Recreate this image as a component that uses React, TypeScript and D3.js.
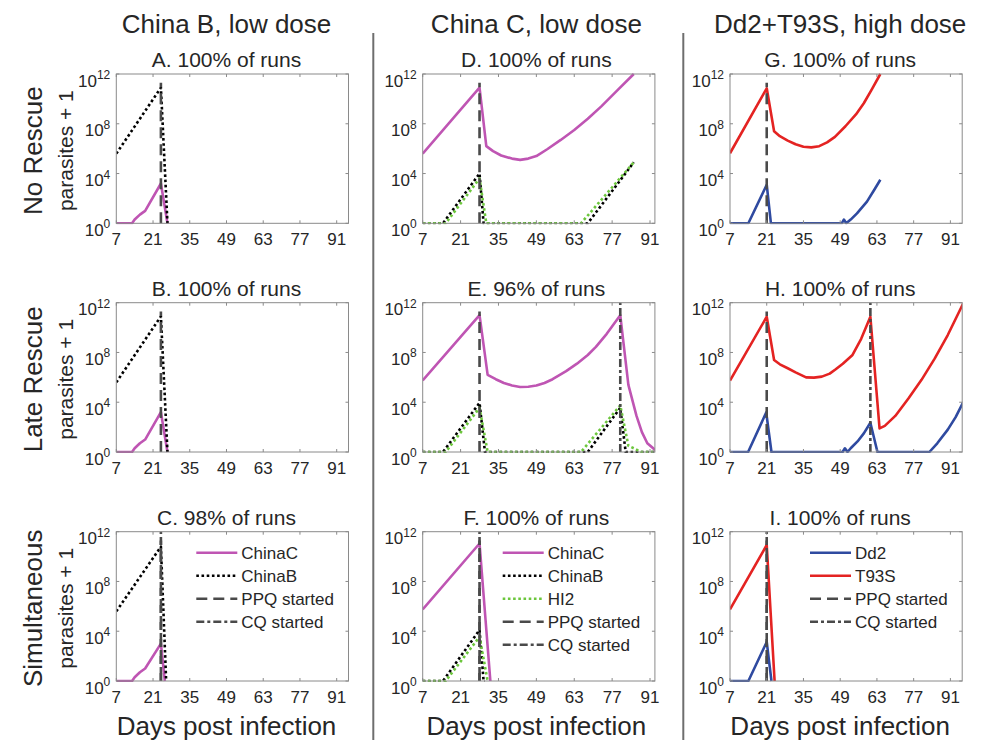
import React from 'react';
import * as d3 from 'd3';

// each point is [day post infection, log10(parasites + 1)]
type Pt = [number, number];

// --- China B, low dose ---
const aChinaC: Pt[] = [[7, 0], [13, 0], [14, 0.3], [16, 0.7], [18, 1.0], [24, 3.2], [26.5, 0]];
const aChinaB: Pt[] = [[7, 5.6], [24, 10.9], [26.5, 0]];
const cChinaC: Pt[] = [[7, 0], [13, 0], [14, 0.3], [16, 0.7], [18, 1.0], [24, 3.0], [25.5, 0]];
const cChinaB: Pt[] = [[7, 5.6], [24, 10.8], [26, 0]];

// --- China C, low dose ---
const dChinaC: Pt[] = [
  [7, 5.6], [28, 10.9], [30.5, 6.2], [33, 5.8], [36, 5.45], [40, 5.2], [43, 5.1], [46, 5.2],
  [49, 5.4], [53, 5.95], [58, 6.7], [63, 7.5], [68, 8.4], [73, 9.4], [79, 10.7], [85, 12],
];
const dChinaB: Pt[] = [[7, 0], [14.5, 0], [28, 4.0], [29.5, 0], [68, 0], [85, 4.9]];
const dHI2: Pt[] = [[7, 0], [15.5, 0], [28, 3.6], [30.5, 0], [65.5, 0], [85, 4.9]];

const eChinaC: Pt[] = [
  [7, 5.75], [28, 11.0], [31, 6.2], [34, 5.85], [37, 5.55], [40, 5.35], [43, 5.23], [46, 5.25],
  [49, 5.34], [52, 5.55], [55, 5.85], [60, 6.5], [64, 7.1], [68, 7.8], [71, 8.45], [75, 9.5],
  [80, 11.0], [83, 5.4], [86, 2.9], [88, 1.6], [90, 0.7], [93, 0.15],
];
const eChinaB: Pt[] = [[7, 0], [14.5, 0], [28, 3.95], [30, 0], [68, 0], [80, 3.55], [82, 0], [93, 0]];
const eHI2: Pt[] = [[7, 0], [15.5, 0], [28, 3.55], [31, 0], [65.5, 0], [80, 3.75], [83, 0.5], [85, 0.3], [87.5, 0], [93, 0]];

const fChinaC: Pt[] = [[7, 5.75], [28, 11.05], [32, 0]];
const fChinaB: Pt[] = [[7, 0], [14.5, 0], [28, 4.1], [29.5, 0], [30, 0]];
const fHI2: Pt[] = [[7, 0], [15.5, 0], [28, 3.55], [31, 0]];

// --- Dd2+T93S, high dose ---
const gT93S: Pt[] = [
  [7, 5.63], [21, 10.85], [23.8, 7.4], [26, 7.0], [29, 6.65], [32, 6.35], [35, 6.15], [38, 6.1],
  [41, 6.2], [44, 6.5], [47, 6.95], [51, 7.8], [55, 8.75], [58, 9.65], [61, 10.75], [64.3, 12],
];
const gDd2: Pt[] = [
  [7, 0], [14, 0], [21, 3.1], [22.6, 0], [49.6, 0], [50.4, 0.3], [51.3, 0], [53, 0.3],
  [55.4, 0.8], [59.2, 1.74], [62, 2.7], [64.3, 3.5],
];

const hT93S: Pt[] = [
  [7, 5.74], [21, 10.87], [23.8, 7.4], [26, 7.05], [29, 6.73], [32, 6.4], [36, 6.0], [39, 5.98],
  [42, 6.06], [45, 6.3], [47.3, 6.65], [50, 7.1], [53.7, 7.8], [57, 9.1], [60.5, 10.87],
  [64, 1.9], [66, 2.1], [70, 2.9], [75, 4.3], [80, 5.8], [85, 7.5], [90, 9.4], [96, 12],
];
const hDd2: Pt[] = [
  [7, 0], [13.9, 0], [20.8, 3.18], [22.8, 0], [49.9, 0], [50.8, 0.3], [51.8, 0], [53, 0.3],
  [55.6, 0.85], [58, 1.5], [60.5, 2.35], [63.2, 0], [83, 0], [86, 0.7], [90, 1.8], [93, 2.8], [96, 4.05],
];

const iT93S: Pt[] = [[7, 5.75], [21, 10.93], [24, 0]];
const iDd2: Pt[] = [[7, 0], [14, 0], [21, 3.14], [22.8, 0]];

const xTicks = [7, 21, 35, 49, 63, 77, 91];
const yTickExps = [0, 4, 8, 12];
const columnTitles = ['China B, low dose', 'China C, low dose', 'Dd2+T93S, high dose'];
const rowTitles = ['No Rescue', 'Late Rescue', 'Simultaneous'];
const xMaxByCol = [95.5, 92.8, 95.5];

const legendC = ['ChinaC', 'ChinaB', 'PPQ started', 'CQ started'];
const legendF = ['ChinaC', 'ChinaB', 'HI2', 'PPQ started', 'CQ started'];
const legendI = ['Dd2', 'T93S', 'PPQ started', 'CQ started'];

type Panel = {
  row: number;
  col: number;
  title: string;
  series: [string, Pt[]][];
  ppq: number;
  cq: number | null;
  legend?: string[];
};

const panels: Panel[] = [
  { row: 0, col: 0, title: 'A. 100% of runs', series: [['ChinaC', aChinaC], ['ChinaB', aChinaB]], ppq: 24, cq: null },
  { row: 1, col: 0, title: 'B. 100% of runs', series: [['ChinaC', aChinaC], ['ChinaB', aChinaB]], ppq: 24, cq: null },
  { row: 2, col: 0, title: 'C. 98% of runs', series: [['ChinaC', cChinaC], ['ChinaB', cChinaB]], ppq: 24, cq: 24, legend: legendC },
  { row: 0, col: 1, title: 'D. 100% of runs', series: [['ChinaC', dChinaC], ['ChinaB', dChinaB], ['HI2', dHI2]], ppq: 28, cq: null },
  { row: 1, col: 1, title: 'E. 96% of runs', series: [['ChinaC', eChinaC], ['ChinaB', eChinaB], ['HI2', eHI2]], ppq: 28, cq: 80 },
  { row: 2, col: 1, title: 'F. 100% of runs', series: [['ChinaC', fChinaC], ['ChinaB', fChinaB], ['HI2', fHI2]], ppq: 28, cq: 28, legend: legendF },
  { row: 0, col: 2, title: 'G. 100% of runs', series: [['Dd2', gDd2], ['T93S', gT93S]], ppq: 21, cq: null },
  { row: 1, col: 2, title: 'H. 100% of runs', series: [['Dd2', hDd2], ['T93S', hT93S]], ppq: 21, cq: 60.5 },
  { row: 2, col: 2, title: 'I. 100% of runs', series: [['Dd2', iDd2], ['T93S', iT93S]], ppq: 21, cq: 21, legend: legendI },
];

const STYLE: Record<string, { color: string; width: number; dash?: string }> = {
  ChinaC: { color: '#bf55b3', width: 2.6 },
  ChinaB: { color: '#000000', width: 2.6, dash: '2.6 2.6' },
  HI2: { color: '#6cc63c', width: 2.6, dash: '2.6 2.6' },
  Dd2: { color: '#2f4aa0', width: 2.6 },
  T93S: { color: '#e42322', width: 2.6 },
  'PPQ started': { color: '#4a4a4a', width: 2.6, dash: '11 6' },
  'CQ started': { color: '#4a4a4a', width: 2.6, dash: '8 3 3 3' },
};

const W = 984;
const H = 740;
const colLeft = [116.3, 422.7, 730];
const rowTop = [74, 302.7, 531.7];
const PW = 232.2;
const PH = 149.3;
const FONT = '"Liberation Sans", Arial, Helvetica, sans-serif';
const TEXT = '#262626';
const AXIS = '#8a8a8a';

function PanelView({ p, idx }: { p: Panel; idx: number }) {
  const left = colLeft[p.col];
  const top = rowTop[p.row];
  const x = d3.scaleLinear().domain([7, xMaxByCol[p.col]]).range([left, left + PW]);
  const y = d3.scaleLog().domain([1, 1e12]).range([top + PH, top]);
  const line = d3
    .line<Pt>()
    .x((d) => x(d[0]))
    .y((d) => y(Math.pow(10, d[1])));
  const bottom = top + PH;
  const clipId = `clip${idx}`;
  const tick = 3;

  return (
    <g>
      <defs>
        <clipPath id={clipId}>
          <rect x={left} y={top - 1} width={PW} height={PH + 2} />
        </clipPath>
      </defs>
      <text x={x(49)} y={top - 7} textAnchor="middle" fontSize={21} fill={TEXT}>
        {p.title}
      </text>
      <g clipPath={`url(#${clipId})`}>
        {p.series.map(([name, data]) => {
          const s = STYLE[name];
          return (
            <path
              key={name}
              d={line(data) || ''}
              fill="none"
              stroke={s.color}
              strokeWidth={s.width}
              strokeDasharray={s.dash}
              strokeLinejoin="round"
            />
          );
        })}
        <line
          x1={x(p.ppq)}
          x2={x(p.ppq)}
          y1={y(1)}
          y2={y(Math.pow(10, 11.3))}
          stroke={STYLE['PPQ started'].color}
          strokeWidth={STYLE['PPQ started'].width}
          strokeDasharray={STYLE['PPQ started'].dash}
        />
        {p.cq !== null && (
          <line
            x1={x(p.cq)}
            x2={x(p.cq)}
            y1={y(1)}
            y2={y(1e12)}
            stroke={STYLE['CQ started'].color}
            strokeWidth={STYLE['CQ started'].width}
            strokeDasharray={STYLE['CQ started'].dash}
          />
        )}
      </g>
      <rect x={left} y={top} width={PW} height={PH} fill="none" stroke={AXIS} strokeWidth={1} />
      {xTicks.map((t) => (
        <g key={'x' + t}>
          <line x1={x(t)} x2={x(t)} y1={bottom} y2={bottom - tick} stroke={AXIS} />
          <line x1={x(t)} x2={x(t)} y1={top} y2={top + tick} stroke={AXIS} />
          <text x={x(t)} y={bottom + 21.5} textAnchor="middle" fontSize={17} fill={TEXT}>
            {t}
          </text>
        </g>
      ))}
      {yTickExps.map((e) => {
        const yy = y(Math.pow(10, e));
        return (
          <g key={'y' + e}>
            <line x1={left} x2={left + tick} y1={yy} y2={yy} stroke={AXIS} />
            <line x1={left + PW} x2={left + PW - tick} y1={yy} y2={yy} stroke={AXIS} />
            <text x={left - 6} y={yy + 12.5} textAnchor="end" fontSize={17} fill={TEXT}>
              10
              <tspan dy={-7.5} fontSize={12}>
                {e}
              </tspan>
            </text>
          </g>
        );
      })}
      {p.legend &&
        p.legend.map((name, i) => {
          const s = STYLE[name];
          const ly = top + 21 + i * 23;
          return (
            <g key={name}>
              <line
                x1={left + 80}
                x2={left + 121}
                y1={ly}
                y2={ly}
                stroke={s.color}
                strokeWidth={s.width}
                strokeDasharray={s.dash}
              />
              <text x={left + 125} y={ly + 6} fontSize={17} fill={TEXT}>
                {name}
              </text>
            </g>
          );
        })}
    </g>
  );
}

export default function App() {
  return (
    <svg
      width={W}
      height={H}
      style={{ position: 'absolute', left: 0, top: 0, background: '#fff' }}
      fontFamily={FONT}
    >
      <rect width={W} height={H} fill="#fff" />
      {[373.3, 683.3].map((sx) => (
        <line key={sx} x1={sx} x2={sx} y1={33} y2={H} stroke="#6e6e6e" strokeWidth={2} />
      ))}
      {columnTitles.map((t, c) => {
        const x = d3.scaleLinear().domain([7, xMaxByCol[c]]).range([colLeft[c], colLeft[c] + PW]);
        return (
          <g key={t}>
            <text x={x(49)} y={33} textAnchor="middle" fontSize={26} fill={TEXT}>
              {t}
            </text>
            <text x={x(49)} y={735} textAnchor="middle" fontSize={26} fill={TEXT}>
              Days post infection
            </text>
          </g>
        );
      })}
      {rowTitles.map((t, r) => {
        const cy = rowTop[r] + PH / 2 + 2;
        return (
          <g key={t}>
            <text transform={`translate(42,${cy}) rotate(-90)`} textAnchor="middle" fontSize={26} fill={TEXT}>
              {t}
            </text>
            <text transform={`translate(73,${cy}) rotate(-90)`} textAnchor="middle" fontSize={21} fill={TEXT}>
              parasites + 1
            </text>
          </g>
        );
      })}
      {panels.map((p, i) => (
        <PanelView key={p.title} p={p} idx={i} />
      ))}
    </svg>
  );
}
